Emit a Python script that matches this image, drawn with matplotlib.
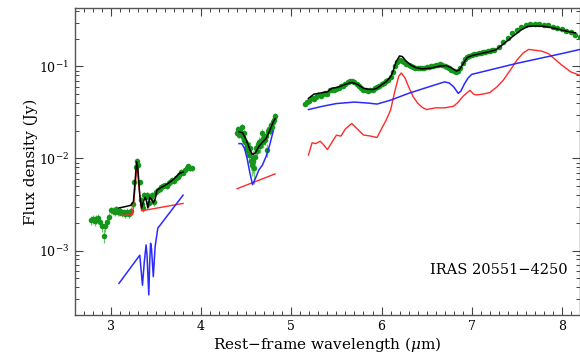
import numpy as np
import matplotlib
matplotlib.use('Agg')
import matplotlib.pyplot as plt
from matplotlib.ticker import LogLocator, MultipleLocator, NullFormatter

plt.rcParams['font.family'] = ['DejaVu Serif']
plt.rcParams['mathtext.fontset'] = 'dejavuserif'

# ################ #
# Data (read off)  #
# ################ #
# observed spectrum, 3-4 micron piece
obs1_x = [2.78, 2.80, 2.82, 2.84, 2.86, 2.88, 2.90, 2.92, 2.94, 2.96, 2.98, 3.00,
          3.02, 3.04, 3.06, 3.08, 3.10, 3.12, 3.14, 3.16, 3.18, 3.20, 3.22, 3.24,
          3.26, 3.28, 3.29, 3.30, 3.32, 3.33, 3.35, 3.36, 3.37, 3.39, 3.40, 3.42,
          3.44, 3.46, 3.48, 3.50, 3.52, 3.54, 3.56, 3.58, 3.60, 3.62, 3.64, 3.66,
          3.68, 3.70, 3.72, 3.74, 3.76, 3.78, 3.80, 3.82, 3.84, 3.86, 3.88, 3.90]
obs1_y = [2.15e-3, 2.2e-3, 2.1e-3, 2.2e-3, 2.25e-3, 2.05e-3, 1.85e-3, 1.45e-3, 1.85e-3,
          2.05e-3, 2.3e-3, 2.75e-3, 2.7e-3, 2.65e-3, 2.8e-3, 2.6e-3, 2.7e-3, 2.55e-3,
          2.6e-3, 2.5e-3, 2.65e-3, 2.5e-3, 2.7e-3, 3.2e-3, 5.5e-3, 8.0e-3, 9.5e-3,
          8.5e-3, 5.5e-3, 3.5e-3, 3.2e-3, 2.9e-3, 4.0e-3, 3.8e-3, 4.0e-3, 3.3e-3,
          3.8e-3, 4.0e-3, 3.4e-3, 4.3e-3, 4.6e-3, 4.7e-3, 4.9e-3, 5.0e-3, 5.1e-3,
          5.0e-3, 5.4e-3, 5.6e-3, 5.8e-3, 5.7e-3, 6.2e-3, 6.3e-3, 6.6e-3, 7.2e-3,
          7.0e-3, 7.5e-3, 7.9e-3, 8.2e-3, 7.8e-3, 7.8e-3]
obs1_err = [2.5e-4, 2.5e-4, 2.5e-4, 2.5e-4, 2.5e-4, 2.5e-4, 2.5e-4, 2.5e-4, 2.5e-4,
            2.5e-4, 2.5e-4, 2.5e-4, 2.5e-4, 2.5e-4, 2.5e-4, 2.5e-4, 2.5e-4, 2.5e-4,
            2.5e-4, 2.5e-4, 2.5e-4, 2.5e-4, 2.5e-4, 3e-4, 4e-4, 5e-4, 5e-4,
            5e-4, 4e-4, 3e-4, 3e-4, 3e-4, 3.5e-4, 3.5e-4, 3.5e-4, 3.5e-4,
            3.5e-4, 3.5e-4, 3.5e-4, 3.5e-4, 3.5e-4, 3.5e-4, 3.5e-4, 3.5e-4, 3.5e-4,
            3.5e-4, 3.5e-4, 3.5e-4, 3.5e-4, 3.5e-4, 4e-4, 4e-4, 4e-4, 4e-4,
            4e-4, 4e-4, 4e-4, 4e-4, 4e-4, 4e-4]

# observed spectrum, 4.4-4.8 micron piece
obs2_x = [4.40, 4.41, 4.42, 4.43, 4.44, 4.45, 4.46, 4.47, 4.48, 4.49, 4.50, 4.51,
          4.52, 4.53, 4.54, 4.55, 4.56, 4.57, 4.58, 4.59, 4.60, 4.61, 4.62, 4.63,
          4.64, 4.65, 4.66, 4.67, 4.68, 4.69, 4.70, 4.71, 4.72, 4.73, 4.74, 4.75,
          4.76, 4.77, 4.78, 4.79, 4.80, 4.81, 4.82]
obs2_y = [1.9e-2, 2.1e-2, 1.8e-2, 2.0e-2, 1.9e-2, 2.2e-2, 1.7e-2, 1.9e-2, 1.6e-2,
          1.5e-2, 1.3e-2, 1.45e-2, 1.2e-2, 1.1e-2, 1.3e-2, 9.5e-3, 8.5e-3, 1.0e-2,
          9.5e-3, 7.8e-3, 1.05e-2, 1.3e-2, 1.2e-2, 1.4e-2, 1.5e-2, 1.35e-2, 1.55e-2,
          1.9e-2, 1.6e-2, 1.5e-2, 1.7e-2, 1.6e-2, 1.75e-2, 1.25e-2, 2.0e-2, 2.1e-2,
          2.0e-2, 2.2e-2, 2.3e-2, 2.2e-2, 2.5e-2, 2.6e-2, 2.9e-2]
obs2_err = [1.5e-3, 1.5e-3, 1.5e-3, 1.5e-3, 1.5e-3, 1.5e-3, 1.5e-3, 1.5e-3, 1.5e-3,
            1.5e-3, 1.5e-3, 1.5e-3, 1.5e-3, 2e-3, 2e-3, 2e-3, 2e-3, 2e-3,
            2.5e-3, 2.5e-3, 2e-3, 2e-3, 2e-3, 2e-3, 2e-3, 2e-3, 2e-3,
            2e-3, 2e-3, 2e-3, 2e-3, 2e-3, 2e-3, 2e-3, 2e-3, 2e-3,
            2e-3, 2e-3, 2e-3, 2e-3, 2e-3, 2e-3, 2e-3]

# observed spectrum, 5.2-8.2 micron piece
obs3_x = [5.150, 5.175, 5.200, 5.225, 5.250, 5.275, 5.300, 5.325, 5.350, 5.375,
          5.400, 5.425, 5.450, 5.475, 5.500, 5.525, 5.550, 5.575, 5.600, 5.625,
          5.650, 5.675, 5.700, 5.725, 5.750, 5.775, 5.800, 5.825, 5.850, 5.875,
          5.900, 5.925, 5.950, 5.975, 6.000, 6.025, 6.050, 6.075, 6.100, 6.125,
          6.150, 6.175, 6.200, 6.225, 6.250, 6.275, 6.300, 6.325, 6.350, 6.375,
          6.400, 6.425, 6.450, 6.475, 6.500, 6.525, 6.550, 6.575, 6.600, 6.625,
          6.650, 6.675, 6.700, 6.725, 6.750, 6.775, 6.800, 6.825, 6.850, 6.875,
          6.900, 6.925, 6.950, 6.975, 7.000, 7.025, 7.050, 7.075, 7.100, 7.125,
          7.150, 7.175, 7.200, 7.225, 7.250, 7.300, 7.350, 7.400, 7.450, 7.500,
          7.550, 7.600, 7.650, 7.700, 7.750, 7.800, 7.850, 7.900, 7.950, 8.000,
          8.050, 8.100, 8.150, 8.200]
obs3_y = [0.039, 0.041, 0.042, 0.045, 0.044, 0.047, 0.049, 0.048, 0.050, 0.051,
          0.050, 0.055, 0.056, 0.055, 0.057, 0.059, 0.061, 0.062, 0.065, 0.067,
          0.069, 0.070, 0.067, 0.064, 0.061, 0.058, 0.056, 0.055, 0.0545, 0.055,
          0.056, 0.058, 0.060, 0.062, 0.064, 0.066, 0.069, 0.072, 0.076, 0.086,
          0.101, 0.112, 0.116, 0.115, 0.111, 0.106, 0.103, 0.100, 0.098, 0.097,
          0.096, 0.096, 0.096, 0.097, 0.098, 0.099, 0.100, 0.101, 0.103, 0.104,
          0.105, 0.104, 0.101, 0.098, 0.095, 0.092, 0.089, 0.087, 0.089, 0.097,
          0.110, 0.121, 0.127, 0.130, 0.133, 0.136, 0.138, 0.140, 0.141, 0.143,
          0.145, 0.146, 0.148, 0.149, 0.151, 0.163, 0.184, 0.205, 0.228, 0.248,
          0.268, 0.284, 0.288, 0.288, 0.287, 0.285, 0.280, 0.271, 0.262, 0.253,
          0.244, 0.234, 0.222, 0.210]

# total fit (black)
fit1_x = [3.09, 3.16, 3.22, 3.25, 3.27, 3.285, 3.30, 3.32, 3.34, 3.36, 3.38, 3.39,
          3.41, 3.43, 3.45, 3.47, 3.49, 3.51, 3.55, 3.60, 3.65, 3.70, 3.76, 3.80]
fit1_y = [2.9e-3, 3.0e-3, 3.1e-3, 3.4e-3, 6.0e-3, 9.2e-3, 7.5e-3, 4.0e-3, 2.9e-3,
          3.4e-3, 3.8e-3, 3.6e-3, 2.9e-3, 3.8e-3, 3.6e-3, 3.3e-3, 3.6e-3, 4.5e-3,
          4.8e-3, 5.1e-3, 5.5e-3, 6.0e-3, 6.9e-3, 7.1e-3]
fit2_x = [4.42, 4.46, 4.50, 4.54, 4.57, 4.60, 4.64, 4.68, 4.72, 4.76, 4.80, 4.82]
fit2_y = [1.95e-2, 1.9e-2, 1.6e-2, 1.25e-2, 1.1e-2, 1.15e-2, 1.35e-2, 1.5e-2,
          1.65e-2, 2.0e-2, 2.5e-2, 2.7e-2]
fit3_x = [5.19, 5.25, 5.30, 5.35, 5.40, 5.45, 5.50, 5.55, 5.60, 5.67, 5.73, 5.80,
          5.85, 5.90, 5.95, 6.00, 6.05, 6.10, 6.13, 6.16, 6.20, 6.23, 6.27, 6.32,
          6.38, 6.45, 6.55, 6.65, 6.72, 6.78, 6.83, 6.86, 6.90, 6.95, 7.00, 7.10,
          7.20, 7.27, 7.35, 7.45, 7.55, 7.62, 7.70, 7.80, 7.90, 8.00, 8.10, 8.15]
fit3_y = [0.045, 0.050, 0.051, 0.052, 0.053, 0.058, 0.059, 0.061, 0.064, 0.067,
          0.064, 0.058, 0.0565, 0.056, 0.058, 0.063, 0.068, 0.077, 0.090, 0.112,
          0.130, 0.128, 0.115, 0.104, 0.097, 0.094, 0.096, 0.101, 0.102, 0.096,
          0.089, 0.091, 0.105, 0.125, 0.131, 0.138, 0.145, 0.152, 0.175, 0.210,
          0.250, 0.272, 0.275, 0.272, 0.262, 0.248, 0.236, 0.232]

# PAH / starburst component (red)
pah1_x = [3.10, 3.24, 3.27, 3.29, 3.31, 3.34, 3.80]
pah1_y = [2.4e-3, 2.45e-3, 5.0e-3, 9.0e-3, 5.0e-3, 2.7e-3, 3.25e-3]
pah2_x = [4.40, 4.82]
pah2_y = [4.7e-3, 6.8e-3]
pah3_x = [5.19, 5.23, 5.27, 5.32, 5.36, 5.40, 5.45, 5.50, 5.55, 5.60, 5.67, 5.73,
          5.80, 5.88, 5.95, 6.00, 6.05, 6.10, 6.15, 6.19, 6.22, 6.26, 6.30, 6.35,
          6.40, 6.45, 6.50, 6.60, 6.70, 6.80, 6.85, 6.90, 6.95, 6.98, 7.02, 7.05,
          7.12, 7.20, 7.28, 7.35, 7.43, 7.50, 7.57, 7.63, 7.70, 7.77, 7.85, 7.92,
          8.00, 8.10, 8.20]
pah3_y = [0.0109, 0.0148, 0.0145, 0.0154, 0.014, 0.0125, 0.015, 0.0179, 0.0175,
          0.021, 0.024, 0.021, 0.018, 0.0175, 0.0169, 0.021, 0.026, 0.0335, 0.055,
          0.078, 0.085, 0.075, 0.060, 0.047, 0.040, 0.036, 0.034, 0.0355, 0.0355,
          0.037, 0.041, 0.047, 0.052, 0.055, 0.050, 0.049, 0.050, 0.052, 0.060,
          0.071, 0.092, 0.117, 0.140, 0.153, 0.150, 0.147, 0.138, 0.120, 0.103,
          0.087, 0.080]

# AGN component (blue)
agn1_x = [3.09, 3.32, 3.35, 3.37, 3.39, 3.40, 3.42, 3.43, 3.44, 3.45, 3.47, 3.49,
          3.52, 3.80]
agn1_y = [4.4e-4, 8.9e-4, 4.2e-4, 7.5e-4, 1.15e-3, 9.0e-4, 3.3e-4, 7.5e-4, 1.2e-3,
          1.05e-3, 5.2e-4, 1.1e-3, 1.75e-3, 4.0e-3]
agn2_x = [4.42, 4.45, 4.48, 4.51, 4.54, 4.57, 4.60, 4.64, 4.68, 4.72, 4.76, 4.80]
agn2_y = [1.45e-2, 1.45e-2, 1.3e-2, 1.0e-2, 7.0e-3, 5.2e-3, 6.0e-3, 7.5e-3,
          8.5e-3, 1.05e-2, 1.4e-2, 2.0e-2]
agn3_x = [5.19, 5.35, 5.50, 5.70, 5.85, 5.95, 6.10, 6.30, 6.50, 6.70, 6.75, 6.80,
          6.85, 6.88, 6.92, 6.96, 7.00, 7.50, 8.00, 8.20]
agn3_y = [0.034, 0.037, 0.0395, 0.041, 0.040, 0.039, 0.043, 0.051, 0.059, 0.068,
          0.066, 0.060, 0.051, 0.054, 0.065, 0.075, 0.082, 0.108, 0.138, 0.153]

source_name = 'IRAS 20551\u22124250'

GREEN = '#13961a'
ERR_GREEN = '#6cc46c'
BLUE = '#2a2aff'
RED = '#ff2a2a'


def main():
    fig = plt.figure(figsize=(5.8, 3.53), dpi=100)
    ax = fig.add_axes([0.129, 0.108, 0.871, 0.869])

    for xs, ys, es in [(obs1_x, obs1_y, obs1_err), (obs2_x, obs2_y, obs2_err)]:
        ax.errorbar(xs, ys, yerr=es, fmt='none', ecolor=ERR_GREEN, elinewidth=0.9, zorder=1)
        ax.plot(xs, ys, 'o', color=GREEN, ms=4.0, mew=0, zorder=2)
    ax.plot(obs3_x, obs3_y, 'o', color=GREEN, ms=4.0, mew=0, zorder=2)

    for xs, ys in [(pah1_x, pah1_y), (pah2_x, pah2_y), (pah3_x, pah3_y)]:
        ax.plot(xs, ys, '-', color=RED, lw=1.0, zorder=3)
    for xs, ys in [(agn1_x, agn1_y), (agn2_x, agn2_y), (agn3_x, agn3_y)]:
        ax.plot(xs, ys, '-', color=BLUE, lw=1.1, zorder=3)
    for xs, ys in [(fit1_x, fit1_y), (fit2_x, fit2_y), (fit3_x, fit3_y)]:
        ax.plot(xs, ys, '-', color='black', lw=1.1, zorder=4)

    ax.set_yscale('log')
    ax.set_xlim(2.6, 8.2)
    ax.set_ylim(2.0e-4, 0.43)

    ax.xaxis.set_major_locator(MultipleLocator(1))
    ax.xaxis.set_minor_locator(MultipleLocator(0.1))
    ax.yaxis.set_major_locator(LogLocator(base=10, numticks=10))
    ax.yaxis.set_minor_locator(LogLocator(base=10, subs=np.arange(2, 10), numticks=10))
    ax.yaxis.set_minor_formatter(NullFormatter())

    ax.tick_params(which='both', direction='in', top=True, right=True, colors='#444444',
                   labelcolor='black', labelsize=9)
    ax.tick_params(which='major', length=6, width=0.8, pad=4)
    ax.tick_params(which='minor', length=3, width=0.7)
    for sp in ax.spines.values():
        sp.set_color('#555555')
        sp.set_linewidth(1.0)

    ax.set_xlabel('Rest\u2212frame wavelength ($\\mu$m)', fontsize=11, labelpad=1)
    ax.set_ylabel('Flux density (Jy)', fontsize=11, labelpad=1)

    ax.text(7.3, 6.1e-4, source_name, ha='center', va='center', fontsize=10.5)

    fig.savefig('out.png', dpi=100)


if __name__ == "__main__":
    main()
